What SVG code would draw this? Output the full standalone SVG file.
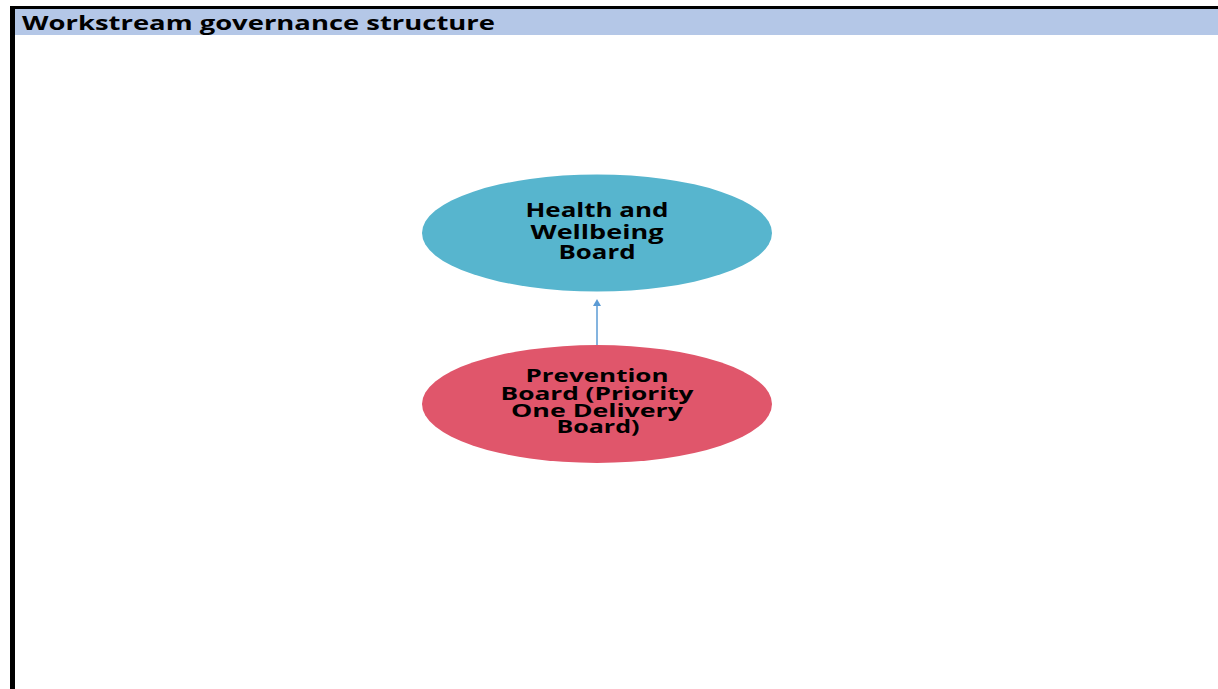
<svg xmlns="http://www.w3.org/2000/svg" width="1218" height="689" viewBox="0 0 1218 689">
<style>
.t{font-family:"Open Sans","Liberation Sans",sans-serif;font-weight:bold;fill:#000;}
.n{font-size:20px;text-anchor:middle;}
.m{font-size:18px;text-anchor:middle;}
</style>
<rect x="0" y="0" width="1218" height="689" fill="#fff"/>
<g id="frame">
<rect x="10" y="6" width="1208" height="3" fill="#000"/>
<rect x="15" y="9" width="1203" height="26" fill="#B4C7E7"/>
<rect x="10" y="6" width="5" height="683" fill="#000"/>
<text class="t" x="22" y="30" font-size="19" textLength="473" lengthAdjust="spacingAndGlyphs">Workstream governance structure</text>
</g>
<g id="connectors">
<line x1="597" y1="345" x2="597" y2="302" stroke="#5B9BD5" stroke-width="1.5"/>
<path d="M593,306 L597,299 L601,306 Z" fill="#5B9BD5"/>
</g>
<g id="node-hwb">
<ellipse cx="597" cy="233" rx="175" ry="58.5" fill="#57B5CE"/>
<text class="t n" x="597" y="217" textLength="143" lengthAdjust="spacingAndGlyphs">Health and</text>
<text class="t n" x="597" y="239" textLength="133" lengthAdjust="spacingAndGlyphs">Wellbeing</text>
<text class="t n" x="597" y="259" textLength="77" lengthAdjust="spacingAndGlyphs">Board</text>
</g>
<g id="node-prevention">
<ellipse cx="597" cy="404" rx="175" ry="59" fill="#E0566B"/>
<text class="t m" x="597" y="382" textLength="143" lengthAdjust="spacingAndGlyphs">Prevention</text>
<text class="t m" x="597" y="400" textLength="193" lengthAdjust="spacingAndGlyphs">Board (Priority</text>
<text class="t m" x="597" y="417" textLength="172" lengthAdjust="spacingAndGlyphs">One Delivery</text>
<text class="t m" x="598" y="433" textLength="83" lengthAdjust="spacingAndGlyphs">Board)</text>
</g>
</svg>
